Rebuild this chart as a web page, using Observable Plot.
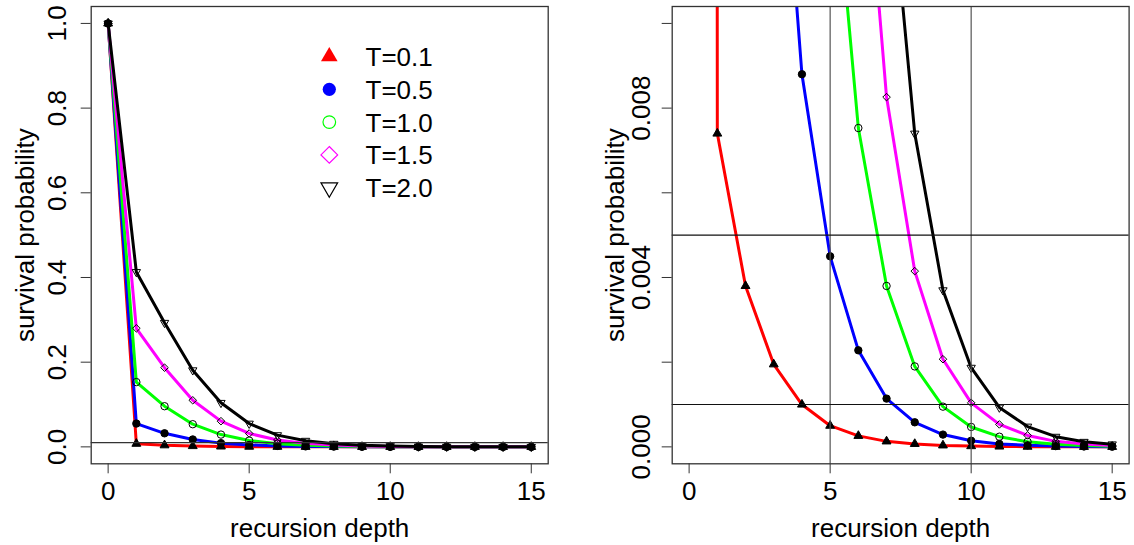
<!DOCTYPE html>
<html><head><meta charset="utf-8">
<script src="https://cdn.jsdelivr.net/npm/d3@7"></script>
<script src="https://cdn.jsdelivr.net/npm/@observablehq/plot@0.6"></script>
<style>
html,body{margin:0;padding:0;background:#fff;}
#wrap{position:relative;width:1134px;height:545px;display:flex;}
#legend{position:absolute;left:0;top:0;pointer-events:none;}
</style></head><body>
<div id="wrap"></div>
<script>
// ---- data ----
const depth = [0,1,2,3,4,5,6,7,8,9,10,11,12,13,14,15];
const seriesNames = ["T=0.1","T=0.5","T=1.0","T=1.5","T=2.0"];
const pT01 = [1, 0.0074, 0.0038, 0.00195, 0.001, 0.0005, 0.00026, 0.00013, 0.00007, 0.000035, 0.000018, 0.000009, 0.0000045, 0.0000023, 0.0000012, 0.0000006];
const pT05 = [1, 0.055, 0.032, 0.0175, 0.0088, 0.0045, 0.00228, 0.00114, 0.00058, 0.00029, 0.000145, 0.00007, 0.000036, 0.000018, 0.000009, 0.0000045];
const pT10 = [1, 0.153, 0.096, 0.0535, 0.029, 0.0149, 0.00753, 0.0038, 0.0019, 0.00095, 0.00047, 0.00024, 0.00012, 0.00006, 0.00003, 0.000015];
const pT15 = [1, 0.28, 0.187, 0.11, 0.0607, 0.0316, 0.0163, 0.00826, 0.00415, 0.00207, 0.00104, 0.00053, 0.00027, 0.00013, 0.000065, 0.00003];
const pT20 = [1, 0.413, 0.293, 0.181, 0.104, 0.055, 0.0277, 0.0145, 0.0074, 0.0037, 0.00187, 0.00093, 0.00048, 0.00024, 0.00012, 0.00006];
const seriesValues = [pT01, pT05, pT10, pT15, pT20];
const lineColors = ["#FF0000", "#0000FF", "#00FF00", "#FF00FF", "#000000"];
const xTicks = [0, 5, 10, 15];
const leftYTicks = [0, 0.2, 0.4, 0.6, 0.8, 1.0];
const leftYLabels = ["0.0", "0.2", "0.4", "0.6", "0.8", "1.0"];
const rightYTicks = [0, 0.002, 0.004, 0.006, 0.008, 0.010];
const rightYLabels = ["0.000", "", "0.004", "", "0.008", ""];
const leftRefY = [0.01];
const rightRefX = [5, 10];
const rightRefY = [0.005, 0.001];
const xLabel = "recursion depth";
const yLabel = "survival probability";

// ---- symbols ----
const triangleDown = {
  draw(context, size) {
    const y = -Math.sqrt(size / (Math.sqrt(3) * 3));
    context.moveTo(0, -2 * y);
    context.lineTo(-Math.sqrt(3) * y, y);
    context.lineTo(Math.sqrt(3) * y, y);
    context.closePath();
  }
};
const markerStyles = [
  {symbol: "triangle", fill: "currentColor", r: 3.3, legendSize: 120},
  {symbol: "circle", fill: "currentColor", r: 3.7, legendSize: 137},
  {symbol: "circle", fill: "none", r: 3.7, legendSize: 125},
  {symbol: "diamond2", fill: "none", r: 3.4, legendSize: 178},
  {symbol: triangleDown, fill: "none", r: 3.1, legendSize: 120}
];

const table = seriesNames.map((name, s) => depth.map((d, i) => ({depth: d, p: seriesValues[s][i], series: name})));

const font = "'Liberation Sans', Arial, Helvetica, sans-serif";

function panel({yDomain, yTicks, yLabels, tickPad, labelOff, marginLeft, marginRight, refs}) {
  const lines = table.map((rows, s) => Plot.line(rows, {x: "depth", y: "p", stroke: lineColors[s], strokeWidth: 3, clip: true}));
  const dots = table.map((rows, s) => Plot.dot(rows, {
    x: "depth", y: "p", symbol: markerStyles[s].symbol, r: markerStyles[s].r,
    fill: markerStyles[s].fill === "none" ? "none" : "#000", stroke: "#000", strokeWidth: 1, clip: true
  }));
  return Plot.plot({
    width: 567, height: 545,
    marginLeft, marginRight, marginTop: 6, marginBottom: 81.7,
    style: {fontFamily: font, fontSize: "26px", color: "#000", background: "#fff", overflow: "visible"},
    x: {domain: [-0.6, 15.6]},
    y: {domain: yDomain},
    marks: [
      ...lines,
      ...dots,
      ...refs,
      Plot.frame({stroke: "#333", strokeWidth: 1.3}),
      Plot.axisX({ticks: xTicks, tickSize: 10, tickPadding: 7.5, stroke: "#333", label: xLabel, labelAnchor: "center", labelOffset: 73.5, labelArrow: "none"}),
      Plot.axisY({ticks: yTicks, tickFormat: d => yLabels[yTicks.indexOf(d)], tickSize: 10, tickPadding: tickPad, tickRotate: -90, stroke: "#333",
        label: yLabel, labelAnchor: "center", labelOffset: labelOff, labelArrow: "none"})
    ]
  });
}

const left = panel({
  yDomain: [-0.04, 1.04], yTicks: leftYTicks, yLabels: leftYLabels, tickPad: 15.5, labelOff: 75.5,
  marginLeft: 90.7, marginRight: 19.3,
  refs: [Plot.ruleY(leftRefY, {stroke: "#333", strokeWidth: 1.2})]
});
const right = panel({
  yDomain: [-0.0004, 0.0104], yTicks: rightYTicks, yLabels: rightYLabels, tickPad: 12, labelOff: 66.5,
  marginLeft: 104.7, marginRight: 5.4,
  refs: [
    Plot.ruleX(rightRefX, {stroke: "#555", strokeWidth: 1.2}),
    Plot.ruleY(rightRefY, {stroke: "#111", strokeWidth: 1.2})
  ]
});
const wrap = document.getElementById("wrap");
wrap.appendChild(left);
wrap.appendChild(right);

// ---- legend (overlay on left panel) ----
const lg = d3.select(wrap).append("svg").attr("id", "legend").attr("width", 567).attr("height", 545);
const rowH = 32.8, cy0 = 56.5, symX = 329.3, textX = 365.5;
seriesNames.forEach((name, s) => {
  const m = markerStyles[s];
  const type = typeof m.symbol === "string" ? {triangle: d3.symbolTriangle, circle: d3.symbolCircle, diamond2: d3.symbolDiamond2}[m.symbol] : m.symbol;
  const filled = m.fill !== "none";
  lg.append("path")
    .attr("d", d3.symbol(type, m.legendSize)())
    .attr("transform", `translate(${symX},${cy0 + s * rowH})`)
    .attr("fill", filled ? lineColors[s] : "none")
    .attr("stroke", lineColors[s])
    .attr("stroke-width", filled ? 0 : 1.2);
  lg.append("text")
    .attr("x", textX).attr("y", cy0 + s * rowH + 9.4)
    .attr("font-family", font).attr("font-size", 26).attr("fill", "#000")
    .text(name);
});
</script>
</body></html>
